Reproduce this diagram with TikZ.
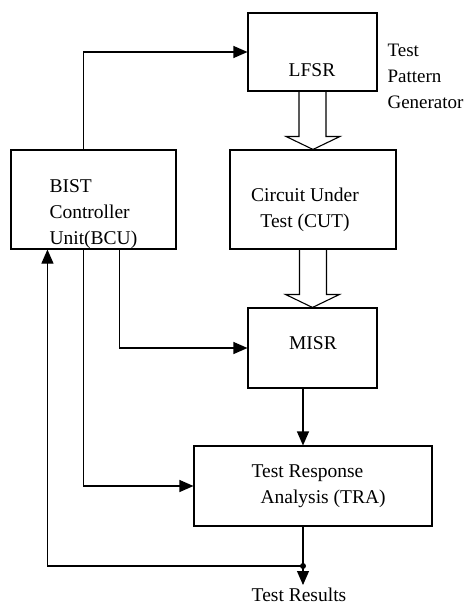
\documentclass[tikz,border=0pt]{standalone}
\usepackage{fontspec}
\setmainfont{Liberation Serif}
\usetikzlibrary{arrows.meta}
\begin{document}
\begin{tikzpicture}[x=1pt,y=-1pt,line width=1.1pt,
  box/.style={draw,inner sep=0pt},
  txt/.style={inner sep=0pt,font=\fontsize{19.5}{26}\selectfont},
  arr/.style={-{Triangle[length=14pt,width=12pt]}}]
\useasboundingbox (0,0) rectangle (466,606);
\node[box,minimum width=129pt,minimum height=78pt] (lfsr) at (312.5,52) {};
\node[box,minimum width=165pt,minimum height=99pt] (bcu) at (93.5,199.5) {};
\node[box,minimum width=166pt,minimum height=99pt] (cut) at (313,199.5) {};
\node[box,minimum width=129pt,minimum height=80pt] (misr) at (312.5,348) {};
\node[box,minimum width=238pt,minimum height=80pt] (tra) at (313,486) {};

\node[txt] (lfsrtxt) at (312,70) {LFSR};
\node[txt,align=left,anchor=west] (bcutxt) at (49,214) {BIST\\Controller\\Unit(BCU)};
\node[txt,align=center] (cuttxt) at (305,210) {Circuit Under\\Test (CUT)};
\node[txt] (misrtxt) at (313,343) {MISR};
\node[txt,align=left,anchor=west] (tratxt) at (251,486) {Test Response\\\hspace*{9pt}Analysis (TRA)};
\node[txt,align=left,anchor=west,font=\fontsize{19}{26}\selectfont] (tpg) at (387,76) {Test\\Pattern\\Generator};
\node[txt] (res) at (299,595) {Test Results};

\coordinate (dot) at (303,566);
\coordinate (out) at (303,585);

\path[draw,arr] ([xshift=73pt]bcu.north west) |- (lfsr);
\path[draw,arr] ([xshift=109pt]bcu.south west) |- (misr);
\path[draw,arr] ([xshift=73pt]bcu.south west) |- (tra);
\path[draw,arr] (misr.south -| dot) -- (tra.north -| dot);
\path[draw] (tra.south -| dot) -- (dot);
\path[draw,arr] (dot) -- (out);
\path[draw,arr] (dot) -| ([xshift=37pt]bcu.south west);
\fill (dot) circle (3pt);

\path[draw] ([xshift=-13.5pt]lfsr.south) |- ([xshift=-27pt,yshift=13pt]cut.north) -- (cut.north)
  -- ([xshift=27pt,yshift=13pt]cut.north) -| ([xshift=13.5pt]lfsr.south);
\path[draw] ([xshift=-13.5pt]cut.south) |- ([xshift=-27pt,yshift=13pt]misr.north) -- (misr.north)
  -- ([xshift=27pt,yshift=13pt]misr.north) -| ([xshift=13.5pt]cut.south);
\end{tikzpicture}
\end{document}
